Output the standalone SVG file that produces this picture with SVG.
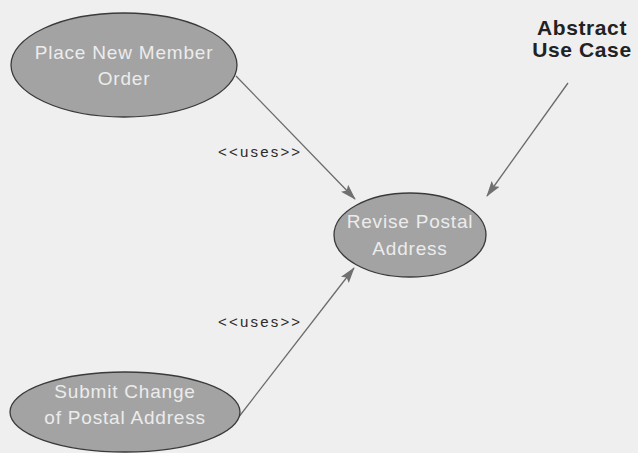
<svg xmlns="http://www.w3.org/2000/svg" width="638" height="453" viewBox="0 0 638 453">
  <defs>
    <marker id="arrow" viewBox="0 0 16 10" refX="15" refY="5" markerWidth="16" markerHeight="10" markerUnits="userSpaceOnUse" orient="auto">
      <path d="M0,0 L16,5 L0,10 L3,5 Z" fill="#707070"/>
    </marker>
  </defs>
  <style>
    .bg { fill: #efefef; }
    .usecase { fill: #a3a3a3; stroke: #3a3a3a; stroke-width: 1.3; }
    .uclabel { font-family: "Liberation Sans", Arial, sans-serif; font-size: 19px; fill: #ececec; text-anchor: middle; letter-spacing: 0.8px; }
    .link { stroke: #6a6a6a; stroke-width: 1.3; fill: none; marker-end: url(#arrow); }
    .stereo { font-family: "Liberation Sans", Arial, sans-serif; font-size: 15px; fill: #2a2a2a; letter-spacing: 2.2px; }
    .note { font-family: "Liberation Sans", Arial, sans-serif; font-size: 21px; font-weight: bold; fill: #222; text-anchor: middle; letter-spacing: 0.6px; }
  </style>

  <rect class="bg" x="0" y="0" width="638" height="453"/>

  <g id="connectors">
    <line class="link" x1="236" y1="76" x2="355" y2="199"/>
    <line class="link" x1="238" y1="418" x2="354" y2="268"/>
    <line class="link" x1="568" y1="83" x2="487" y2="196"/>
    <text class="stereo" x="218" y="157">&lt;&lt;uses&gt;&gt;</text>
    <text class="stereo" x="218" y="327">&lt;&lt;uses&gt;&gt;</text>
  </g>

  <g id="place-new-member-order">
    <ellipse class="usecase" cx="124" cy="65" rx="113" ry="52"/>
    <text class="uclabel" x="124" y="59">Place New Member</text>
    <text class="uclabel" x="124" y="85">Order</text>
  </g>

  <g id="revise-postal-address">
    <ellipse class="usecase" cx="410" cy="235" rx="76" ry="42"/>
    <text class="uclabel" x="410" y="228">Revise Postal</text>
    <text class="uclabel" x="410" y="255">Address</text>
  </g>

  <g id="submit-change-of-postal-address">
    <ellipse class="usecase" cx="125" cy="412" rx="115" ry="40"/>
    <text class="uclabel" x="125" y="398">Submit Change</text>
    <text class="uclabel" x="125" y="424">of Postal Address</text>
  </g>

  <g id="abstract-use-case-note">
    <text class="note" x="582" y="35">Abstract</text>
    <text class="note" x="582" y="57">Use Case</text>
  </g>
</svg>
